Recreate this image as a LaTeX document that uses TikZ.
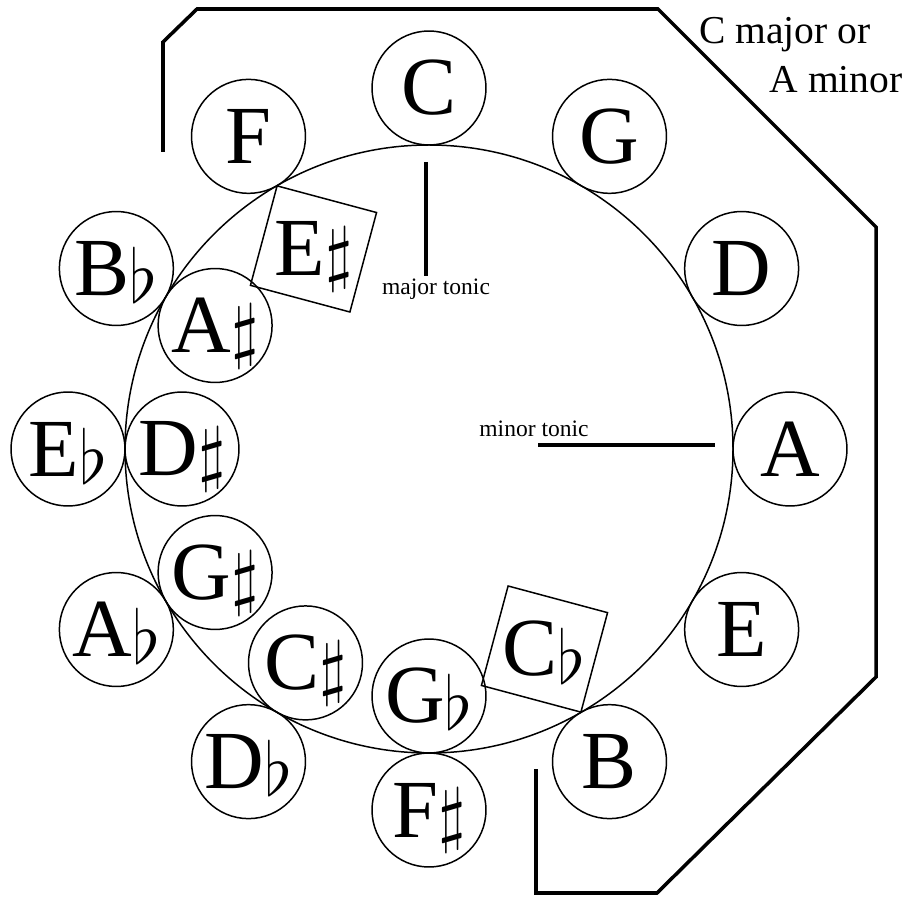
\RequirePackage{fix-cm}
\documentclass[tikz,border=0pt]{standalone}
\usepackage{fontspec}
\setmainfont{Liberation Serif}
\usetikzlibrary{calc}
\tikzset{
  keycirc/.style={circle,draw,line width=.85pt,inner sep=0pt,minimum size=2.28cm,font=\fontsize{47}{50}\selectfont},
  keysq/.style={rectangle,draw,line width=.85pt,inner sep=0pt,minimum size=2.06cm,rotate=-15,font=\fontsize{47}{50}\selectfont},
  frameline/.style={line width=2pt,line join=miter},
  tonicline/.style={line width=2pt},
  tonictxt/.style={font=\fontsize{13.4}{15}\selectfont,inner sep=0pt},
  keytxt/.style={font=\fontsize{22.5}{25}\selectfont,inner sep=0pt}
}
\newcommand{\kshp}{\smash{\raisebox{-1pt}{\fontsize{41}{41}\selectfont$\sharp$}}}
\newcommand{\kflt}{\smash{\raisebox{-4pt}{\fontsize{42}{42}\selectfont$\flat$}}}

\begin{document}
\begin{tikzpicture}[x=0.02cm,y=0.02cm]
  \useasboundingbox (0,0) rectangle (906,897);
  \coordinate (mid) at (429,448);
  \draw[line width=.85pt] (mid) circle[radius=304];
  % major keys outside
  \node[keycirc] (c) at ($(mid)+(90:361)$) {C};
  \node[keycirc] (g) at ($(mid)+(60:361)$) {G};
  \node[keycirc] (d) at ($(mid)+(30:361)$) {D};
  \node[keycirc] (a) at ($(mid)+(0:361)$) {A};
  \node[keycirc] (e) at ($(mid)+(-30:361)$) {E};
  \node[keycirc] (b) at ($(mid)+(-60:361)$) {B};
  \node[keycirc] (fs) at ($(mid)+(-90:361)$) {F\kshp};
  \node[keycirc] (db) at ($(mid)+(-120:361)$) {D\kflt};
  \node[keycirc] (ab) at ($(mid)+(-150:361)$) {A\kflt};
  \node[keycirc] (eb) at ($(mid)+(180:361)$) {E\kflt};
  \node[keycirc] (bb) at ($(mid)+(150:361)$) {B\kflt};
  \node[keycirc] (f) at ($(mid)+(120:361)$) {F};
  % enharmonics inside
  \node[keycirc] (as) at ($(mid)+(150:247)$) {A\kshp};
  \node[keycirc] (ds) at ($(mid)+(180:247)$) {D\kshp};
  \node[keycirc] (gs) at ($(mid)+(-150:247)$) {G\kshp};
  \node[keycirc] (cs) at ($(mid)+(-120:247)$) {C\kshp};
  \node[keycirc] (gb) at ($(mid)+(-90:247)$) {G\kflt};
  \node[keysq] (es) at ($(mid)+(120:231)$) {\rotatebox{15}{E\kshp}};
  \node[keysq] (cb) at ($(mid)+(-60:231)$) {\rotatebox{15}{C\kflt}};
  % tonic markers
  \coordinate (majtop) at (426,735);
  \coordinate (majend) at (426,621);
  \node[tonictxt,anchor=base] (majlbl) at (436,602) {major tonic};
  \draw[tonicline] (majtop) -- (majend);
  \coordinate (minstart) at (538,452);
  \coordinate (minend) at (715,452);
  \node[tonictxt,anchor=base] (minlbl) at (534,460) {minor tonic};
  \draw[tonicline] (minstart) -- (minend);
  % key frame
  \draw[frameline] (163,745) -- (163,855) -- (197,888) -- (658,888) -- (876,670)
    -- (876,220) -- (657,4) -- (536,4) -- (536,128);
  \node[keytxt,anchor=base west] (keyline1) at (699,853) {C major or};
  \node[keytxt,anchor=base east] (keyline2) at (903,804) {A minor};
\end{tikzpicture}
\end{document}
